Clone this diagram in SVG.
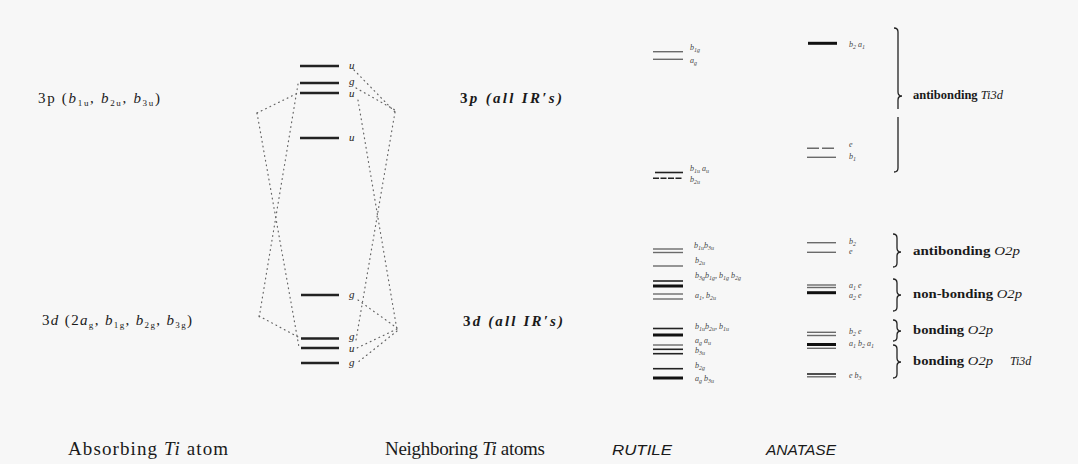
<svg xmlns="http://www.w3.org/2000/svg" width="1078" height="464" viewBox="0 0 1078 464">
<style>
.serif{font-family:"Liberation Serif","DejaVu Serif",serif;fill:#1a1a1a}
.it{font-style:italic}
.big{font-size:15px}
.bot{font-size:19px}
.sans{font-family:"Liberation Sans","DejaVu Sans",sans-serif;font-style:italic;font-size:15px;fill:#1a1a1a}
.lv{stroke:#222;stroke-width:2.4}
.gl{stroke:#6a6a6a;stroke-width:1.4}
.dk{stroke:#222;stroke-width:1.6}
.tk{stroke:#111;stroke-width:3}
.sm{font-family:"Liberation Serif","DejaVu Serif",serif;font-style:italic;font-size:8px;fill:#444}
.ul{font-family:"Liberation Serif","DejaVu Serif",serif;font-style:italic;font-size:11px;fill:#222}
.br{fill:none;stroke:#222;stroke-width:1.3}
.bl{font-family:"Liberation Serif","DejaVu Serif",serif;font-weight:bold;font-size:12px;fill:#1a1a1a}
.dot{stroke:#666;stroke-width:1.2;stroke-dasharray:0.8 4;stroke-linecap:round;fill:none}
</style>
<rect x="0" y="0" width="1078" height="464" fill="#f7f7f7"/>

<g id="connectors">
<line class="dot" x1="257" y1="113" x2="300" y2="92"/>
<line class="dot" x1="257" y1="113" x2="299" y2="347"/>
<line class="dot" x1="298" y1="84" x2="259" y2="318"/>
<line class="dot" x1="259" y1="316" x2="300" y2="338"/>
<line class="dot" x1="354" y1="70" x2="395" y2="112"/>
<line class="dot" x1="356" y1="88" x2="395" y2="110"/>
<line class="dot" x1="358" y1="100" x2="397" y2="330"/>
<line class="dot" x1="395" y1="112" x2="356" y2="340"/>
<line class="dot" x1="358" y1="300" x2="397" y2="328"/>
<line class="dot" x1="397" y1="329" x2="357" y2="348"/>
<line class="dot" x1="397" y1="331" x2="357" y2="363"/>
</g>

<g id="left-3p">
<text class="serif big" x="38" y="103" textLength="122" lengthAdjust="spacing">3p (<tspan class="it">b</tspan><tspan font-size="9" dy="3">1u</tspan><tspan dy="-3">, </tspan><tspan class="it">b</tspan><tspan font-size="9" dy="3">2u</tspan><tspan dy="-3">, </tspan><tspan class="it">b</tspan><tspan font-size="9" dy="3">3u</tspan><tspan dy="-3">)</tspan></text>
</g>
<g id="left-3d">
<text class="serif big" x="42" y="325" textLength="150" lengthAdjust="spacing">3<tspan class="it">d</tspan> (2<tspan class="it">a</tspan><tspan font-size="9" dy="3">g</tspan><tspan dy="-3">, </tspan><tspan class="it">b</tspan><tspan font-size="9" dy="3">1g</tspan><tspan dy="-3">, </tspan><tspan class="it">b</tspan><tspan font-size="9" dy="3">2g</tspan><tspan dy="-3">, </tspan><tspan class="it">b</tspan><tspan font-size="9" dy="3">3g</tspan><tspan dy="-3">)</tspan></text>
</g>

<g id="center-levels">
<line class="lv" x1="300" y1="66" x2="339" y2="66"/>
<line class="lv" x1="300" y1="83" x2="339" y2="83"/>
<line class="lv" x1="300" y1="93" x2="339" y2="93"/>
<line class="lv" x1="300" y1="138" x2="339" y2="138"/>
<line class="lv" x1="301" y1="295" x2="339" y2="295"/>
<line class="lv" x1="301" y1="338.5" x2="339" y2="338.5"/>
<line class="lv" x1="301" y1="348" x2="339" y2="348"/>
<line class="lv" x1="301" y1="363" x2="339" y2="363"/>
<text class="ul" x="349" y="69">u</text>
<text class="ul" x="349" y="85">g</text>
<text class="ul" x="349" y="97">u</text>
<text class="ul" x="349" y="141">u</text>
<text class="ul" x="349" y="298">g</text>
<text class="ul" x="349" y="340">g</text>
<text class="ul" x="349" y="352">u</text>
<text class="ul" x="349" y="366">g</text>
</g>

<g id="right-3p">
<text class="serif it big" x="460" y="103" textLength="102" lengthAdjust="spacing" font-weight="bold"><tspan font-style="normal">3</tspan>p (all IR′s)</text>
</g>
<g id="right-3d">
<text class="serif it big" x="463" y="326" textLength="100" lengthAdjust="spacing" font-weight="bold"><tspan font-style="normal">3</tspan>d (all IR′s)</text>
</g>

<g id="rutile">
<line class="gl" x1="653" y1="51.7" x2="683" y2="51.7"/>
<line class="gl" x1="653" y1="59.3" x2="683" y2="59.3"/>
<line class="dk" x1="655" y1="172.5" x2="683" y2="172.5" stroke-width="2"/>
<line class="dk" x1="653" y1="178.3" x2="683" y2="178.3" stroke-dasharray="6 1.5"/>
<line class="gl" x1="653" y1="249" x2="683" y2="249"/>
<line class="gl" x1="653" y1="252.5" x2="683" y2="252.5"/>
<line class="gl" x1="653" y1="266" x2="683" y2="266"/>
<line class="dk" x1="653" y1="281" x2="683" y2="281" stroke-width="2"/>
<line class="tk" x1="653" y1="286" x2="683" y2="286"/>
<line class="gl" x1="653" y1="294" x2="683" y2="294"/>
<line class="gl" x1="653" y1="299" x2="683" y2="299"/>
<line class="dk" x1="653" y1="328.5" x2="683" y2="328.5"/>
<line class="tk" x1="653" y1="335" x2="683" y2="335"/>
<line class="gl" x1="653" y1="345" x2="683" y2="345"/>
<line class="dk" x1="653" y1="349.3" x2="683" y2="349.3"/>
<line class="dk" x1="653" y1="353.7" x2="683" y2="353.7"/>
<line class="dk" x1="653" y1="368.7" x2="683" y2="368.7"/>
<line class="tk" x1="653" y1="378" x2="683" y2="378"/>
<text class="sm" x="690" y="50">b<tspan font-size="6" dy="2">1g</tspan></text>
<text class="sm" x="690" y="63">a<tspan font-size="6" dy="2">g</tspan></text>
<text class="sm" x="690" y="171">b<tspan font-size="6" dy="2">1u</tspan><tspan dy="-2"> a</tspan><tspan font-size="6" dy="2">u</tspan></text>
<text class="sm" x="690" y="182">b<tspan font-size="6" dy="2">2u</tspan></text>
<text class="sm" x="694" y="248">b<tspan font-size="6" dy="2">1u</tspan><tspan dy="-2">b</tspan><tspan font-size="6" dy="2">3u</tspan></text>
<text class="sm" x="695" y="263">b<tspan font-size="6" dy="2">2u</tspan></text>
<text class="sm" x="695" y="278">b<tspan font-size="6" dy="2">3g</tspan><tspan dy="-2">b</tspan><tspan font-size="6" dy="2">1g</tspan><tspan dy="-2">, b</tspan><tspan font-size="6" dy="2">1g</tspan><tspan dy="-2"> b</tspan><tspan font-size="6" dy="2">2g</tspan></text>
<text class="sm" x="695" y="298">a<tspan font-size="6" dy="2">1</tspan><tspan dy="-2">, b</tspan><tspan font-size="6" dy="2">2u</tspan></text>
<text class="sm" x="695" y="329">b<tspan font-size="6" dy="2">1u</tspan><tspan dy="-2">b</tspan><tspan font-size="6" dy="2">2u</tspan><tspan dy="-2">, b</tspan><tspan font-size="6" dy="2">1u</tspan></text>
<text class="sm" x="695" y="343">a<tspan font-size="6" dy="2">g</tspan><tspan dy="-2"> a</tspan><tspan font-size="6" dy="2">u</tspan></text>
<text class="sm" x="695" y="353">b<tspan font-size="6" dy="2">3u</tspan></text>
<text class="sm" x="695" y="368">b<tspan font-size="6" dy="2">2g</tspan></text>
<text class="sm" x="695" y="381">a<tspan font-size="6" dy="2">g</tspan><tspan dy="-2"> b</tspan><tspan font-size="6" dy="2">3u</tspan></text>
</g>

<g id="anatase">
<line class="tk" x1="808" y1="43.3" x2="837" y2="43.3"/>
<line class="gl" x1="807" y1="148.3" x2="836" y2="148.3" stroke-dasharray="12 3"/>
<line class="gl" x1="807" y1="157.3" x2="836" y2="157.3"/>
<line class="gl" x1="807" y1="242.7" x2="836" y2="242.7"/>
<line class="gl" x1="807" y1="252.3" x2="836" y2="252.3"/>
<line class="gl" x1="807" y1="285" x2="836" y2="285" stroke-width="1"/>
<line class="gl" x1="807" y1="287.5" x2="836" y2="287.5" stroke-width="1"/>
<line class="tk" x1="807" y1="292.7" x2="836" y2="292.7"/>
<line class="gl" x1="807" y1="332.3" x2="836" y2="332.3"/>
<line class="gl" x1="807" y1="335.5" x2="836" y2="335.5"/>
<line class="tk" x1="807" y1="344.5" x2="836" y2="344.5"/>
<line class="gl" x1="807" y1="348.3" x2="836" y2="348.3"/>
<line class="dk" x1="807" y1="374" x2="836" y2="374"/>
<line class="gl" x1="807" y1="376.8" x2="836" y2="376.8"/>
<text class="sm" x="849" y="47">b<tspan font-size="6" dy="2">2</tspan><tspan dy="-2"> a</tspan><tspan font-size="6" dy="2">1</tspan></text>
<text class="sm" x="849" y="147">e</text>
<text class="sm" x="849" y="159">b<tspan font-size="6" dy="2">1</tspan></text>
<text class="sm" x="849" y="244">b<tspan font-size="6" dy="2">2</tspan></text>
<text class="sm" x="849" y="254">e</text>
<text class="sm" x="849" y="288">a<tspan font-size="6" dy="2">1</tspan><tspan dy="-2"> e</tspan></text>
<text class="sm" x="849" y="298">a<tspan font-size="6" dy="2">2</tspan><tspan dy="-2"> e</tspan></text>
<text class="sm" x="849" y="334">b<tspan font-size="6" dy="2">2</tspan><tspan dy="-2"> e</tspan></text>
<text class="sm" x="849" y="346">a<tspan font-size="6" dy="2">1</tspan><tspan dy="-2"> b</tspan><tspan font-size="6" dy="2">2</tspan><tspan dy="-2"> a</tspan><tspan font-size="6" dy="2">1</tspan></text>
<text class="sm" x="849" y="378">e  b<tspan font-size="6" dy="2">3</tspan></text>
</g>

<g id="brace-antibonding-ti3d">
<path class="br" d="M894,28 Q898,28 898,32 L898,92 Q898,96 902,96 Q898,96 898,100 L898,109 M898,117 L898,168 Q898,172 894,172"/>
<text class="bl" x="913" y="99" textLength="90" lengthAdjust="spacingAndGlyphs">antibonding <tspan font-weight="normal" font-style="italic">Ti3d</tspan></text>
</g>
<g id="brace-antibonding-o2p">
<path class="br" d="M893,234 Q897,234 897,238 L897,248 Q897,252 901,252 Q897,252 897,256 L897,263 Q897,267 893,267"/>
<text class="bl" x="913" y="255" textLength="107" lengthAdjust="spacingAndGlyphs">antibonding <tspan font-weight="normal" font-style="italic">O2p</tspan></text>
</g>
<g id="brace-nonbonding-o2p">
<path class="br" d="M893,279 Q897,279 897,283 L897,291 Q897,295 901,295 Q897,295 897,299 L897,307 Q897,311 893,311"/>
<text class="bl" x="913" y="298" textLength="109" lengthAdjust="spacingAndGlyphs">non-bonding <tspan font-weight="normal" font-style="italic">O2p</tspan></text>
</g>
<g id="brace-bonding-o2p">
<path class="br" d="M893,320 Q897,320 897,324 L897,327 Q897,331 901,331 Q897,331 897,335 L897,337 Q897,341 893,341"/>
<text class="bl" x="913" y="334" textLength="80" lengthAdjust="spacingAndGlyphs">bonding <tspan font-weight="normal" font-style="italic">O2p</tspan></text>
</g>
<g id="brace-bonding-o2p-ti3d">
<path class="br" d="M893,345 Q897,345 897,349 L897,358 Q897,362 901,362 Q897,362 897,366 L897,374 Q897,378 893,378"/>
<text class="bl" x="913" y="365" textLength="80" lengthAdjust="spacingAndGlyphs">bonding <tspan font-weight="normal" font-style="italic">O2p</tspan></text>
<text class="serif it" x="1010" y="365" font-size="12">Ti3d</text>
</g>

<g id="bottom-labels">
<text class="serif bot" x="68" y="455" textLength="160" lengthAdjust="spacing">Absorbing <tspan class="it">Ti</tspan> atom</text>
<text class="serif bot" x="385" y="455" textLength="160" lengthAdjust="spacing">Neighboring <tspan class="it">Ti</tspan> atoms</text>
<text class="sans" x="612" y="455" textLength="60" lengthAdjust="spacingAndGlyphs">RUTILE</text>
<text class="sans" x="766" y="455" textLength="70" lengthAdjust="spacingAndGlyphs">ANATASE</text>
</g>
</svg>
